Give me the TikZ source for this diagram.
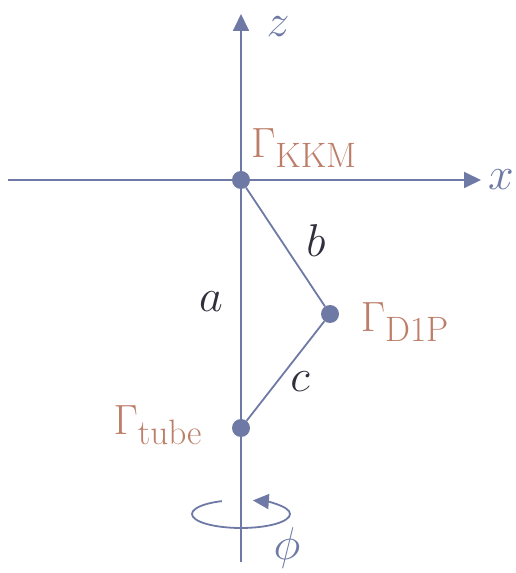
\documentclass[tikz,border=0pt]{standalone}
\usepackage{tikz}
\usetikzlibrary{arrows.meta,positioning}
\definecolor{axis}{HTML}{6E7AA5}
\definecolor{gam}{HTML}{BC7E69}
\definecolor{ink}{HTML}{30303C}

\begin{document}
\begin{tikzpicture}[
    x=1pt, y=1pt,
    axisline/.style={draw=axis, line width=1.8pt},
    arrow/.style={axisline, -{Triangle[length=17pt,width=16pt]}},
    pt/.style={circle, fill=axis, inner sep=0pt, minimum size=18pt},
    gamlabel/.style={text=gam, font=\Huge, scale=1.7},
    seglabel/.style={text=ink, font=\Huge, scale=1.85},
    axlabel/.style={text=axis, font=\Huge, scale=1.85, inner sep=0pt},
]
\useasboundingbox (0,0) rectangle (515,573);

% Axes
\coordinate (zbot) at (241,11);
\coordinate (ztop) at (241,559);
\coordinate (xl) at (8,393);
\coordinate (xr) at (481,393);
\draw[arrow] (zbot) -- (ztop);
\draw[arrow] (xl) -- (xr);
\node[axlabel] (zlab) at (278,546) {$z$};
\node[axlabel] (xlab) at (501,393) {$x$};

% Points
\node[pt] (kkm) at (241,393) {};
\node[pt] (d1p) at (330,259) {};
\node[pt] (tube) at (241,145) {};

\draw[axisline] (kkm) -- (d1p) -- (tube);

\node[gamlabel] (lkkm) at (304,425) {$\Gamma_{\mathrm{KKM}}$};
\node[gamlabel] (ld1p) at (405,251) {$\Gamma_{\mathrm{D1P}}$};
\node[gamlabel] (ltube) at (158,148) {$\Gamma_{\mathrm{tube}}$};

\node[seglabel] (b) at (316,332) {$b$};
\node[seglabel] (a) at (211,271) {$a$};
\node[seglabel] (c) at (300,191) {$c$};

% Rotation
\coordinate (rot) at (241,59);
\draw[axisline, -{Triangle[length=16pt,width=15pt]}]
    ([shift={(113:49 and 14)}]rot) arc[start angle=113, end angle=436, x radius=49, y radius=14];
\node[axlabel] (phi) at (287,25) {$\phi$};

\end{tikzpicture}
\end{document}
